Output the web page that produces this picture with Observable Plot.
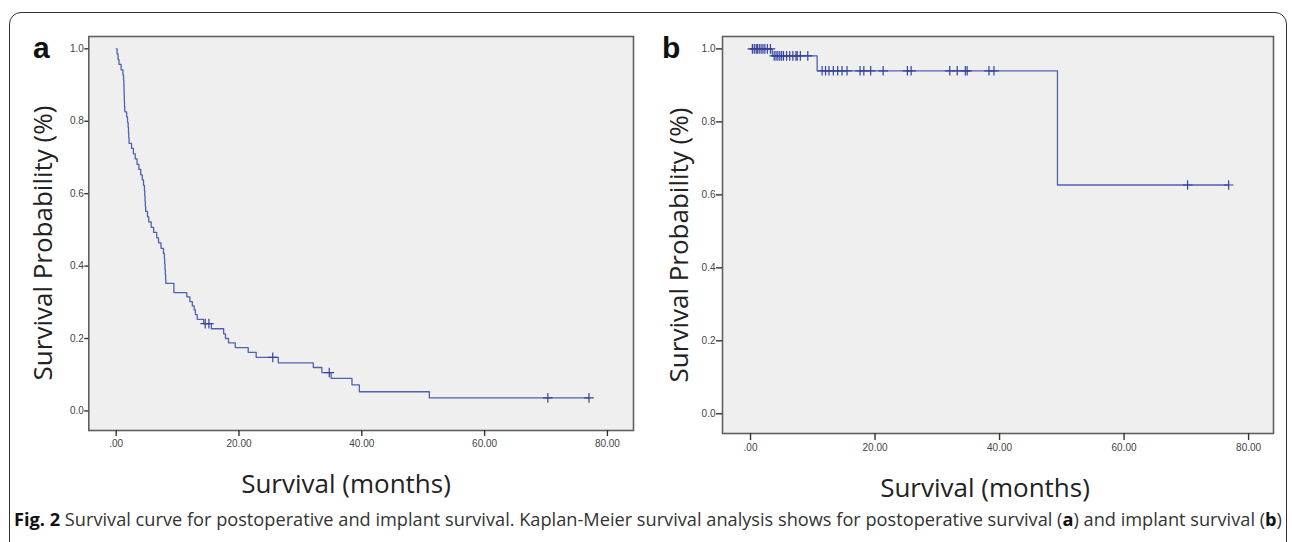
<!DOCTYPE html>
<html><head><meta charset="utf-8">
<script src="https://cdn.jsdelivr.net/npm/d3@7"></script>
<script src="https://cdn.jsdelivr.net/npm/@observablehq/plot@0.6"></script>
<style>
html,body{margin:0;padding:0;background:#fff;}
#fig{position:relative;width:1292px;height:542px;overflow:hidden;font-family:"Open Sans",sans-serif;}
#border{position:absolute;left:9px;top:12px;width:1278px;height:640px;border:1.5px solid #333;border-radius:12px;box-sizing:border-box;}
.panel{position:absolute;left:0;top:0;}
.plabel{position:absolute;font-family:"Liberation Sans",Arial,sans-serif;font-weight:bold;font-size:30px;line-height:1;color:#111;}
.title{position:absolute;font-size:26px;color:#222;white-space:nowrap;line-height:1;}
#caption{position:absolute;left:14px;top:511px;font-size:17.5px;line-height:1;color:#333;white-space:nowrap;transform-origin:0 0;}
#caption b{color:#111;}
</style>
</head><body>
<div id="fig">
  <div id="border"></div>
  <div id="panelA" class="panel"></div>
  <div id="panelB" class="panel"></div>
  <div class="plabel" style="left:33px;top:33px;">a</div>
  <div class="plabel" style="left:662px;top:33px;">b</div>
  <div class="title" id="ytA">Survival Probability (%)</div>
  <div class="title" id="ytB">Survival Probability (%)</div>
  <div class="title" id="xtA">Survival (months)</div>
  <div class="title" id="xtB">Survival (months)</div>
  <div id="caption"><b>Fig. 2</b> Survival curve for postoperative and implant survival. Kaplan-Meier survival analysis shows for postoperative survival (<b>a</b>) and implant survival (<b>b</b>)</div>
</div>
<script>
// ---- Data ----
// Panel a: postoperative survival (Kaplan-Meier steps: time in months, survival after step)
const aTimes = [0, 0.15, 0.3, 0.45, 0.8, 1.1, 1.2, 1.25, 1.28, 1.3, 1.33, 1.36, 1.4, 1.7, 1.85, 1.95, 2.0, 2.05, 2.1, 2.5, 2.8, 3.1, 3.4, 3.7, 4.0, 4.25, 4.45, 4.6, 4.65, 4.7, 4.75, 4.8, 5.1, 5.3, 5.7, 6.1, 6.6, 6.9, 7.3, 7.7, 7.85, 7.9, 7.95, 8.0, 8.05, 8.1, 9.4, 11.5, 12.0, 12.4, 12.7, 12.9, 13.2, 14.25, 15.5, 17.5, 17.8, 18.3, 19.4, 21.5, 22.8, 26.4, 32.1, 33.5, 35.0, 38.4, 39.6, 51.0, 77.0];
const aSurv  = [1.0, 0.986, 0.971, 0.957, 0.942, 0.928, 0.913, 0.899, 0.884, 0.870, 0.855, 0.841, 0.826, 0.812, 0.797, 0.783, 0.768, 0.754, 0.739, 0.725, 0.710, 0.696, 0.681, 0.667, 0.652, 0.638, 0.623, 0.609, 0.594, 0.580, 0.565, 0.551, 0.536, 0.522, 0.507, 0.493, 0.478, 0.464, 0.449, 0.435, 0.420, 0.406, 0.391, 0.377, 0.362, 0.352, 0.327, 0.315, 0.302, 0.290, 0.279, 0.266, 0.253, 0.241, 0.227, 0.213, 0.200, 0.188, 0.175, 0.162, 0.148, 0.133, 0.120, 0.106, 0.090, 0.072, 0.053, 0.036, 0.036];
const aCensorTimes = [14.5, 15.1, 25.5, 34.7, 70.3, 77.0];
const aCensorSurv  = [0.241, 0.241, 0.148, 0.106, 0.036, 0.036];

// Panel b: implant survival
const bTimes = [0, 3.5, 10.7, 49.3, 76.8];
const bSurv  = [1.0, 0.981, 0.94, 0.627, 0.627];
const bCensorTimes = [0.3, 0.6, 0.9, 1.1, 1.4, 1.7, 2.0, 2.3, 2.7, 3.2,
                      3.8, 4.1, 4.4, 4.7, 5.0, 5.3, 5.8, 6.3, 6.8, 7.3, 7.5, 8.0, 9.2,
                      11.5, 12.05, 12.6, 13.3, 14.0, 14.7, 15.5, 17.6, 18.2, 19.3, 21.3, 25.2, 25.8, 32.0, 33.2, 34.5, 34.8, 38.3, 39.1,
                      70.2, 76.8];
const bCensorSurv  = [1,1,1,1,1,1,1,1,1,1,
                      0.981,0.981,0.981,0.981,0.981,0.981,0.981,0.981,0.981,0.981,0.981,0.981,0.981,
                      0.94,0.94,0.94,0.94,0.94,0.94,0.94,0.94,0.94,0.94,0.94,0.94,0.94,0.94,0.94,0.94,0.94,0.94,0.94,
                      0.627,0.627];

// Tick values and labels
const xTicks = [0, 20, 40, 60, 80];
const xTickLabels = [".00", "20.00", "40.00", "60.00", "80.00"];
const yTicks = [0, 0.2, 0.4, 0.6, 0.8, 1.0];
const yTickLabels = ["0.0", "0.2", "0.4", "0.6", "0.8", "1.0"];

const lineColor = "#4f62b4";
const markColor = "#34449a";

function panel(times, surv, cTimes, cSurv, g) {
  const steps = times.map((t, i) => ({t, s: surv[i]}));
  const cens = cTimes.map((t, i) => ({t, s: cSurv[i]}));
  return Plot.plot({
    width: g.width, height: g.height,
    marginLeft: g.left, marginRight: g.width - g.right,
    marginTop: g.top, marginBottom: g.height - g.bottom,
    x: {domain: g.xDomain},
    y: {domain: g.yDomain},
    style: {background: "transparent", fontFamily: "'Liberation Sans', Arial, sans-serif", fontSize: "10px", color: "#444"},
    marks: [
      Plot.frame({fill: "#efefef", stroke: "#606060", strokeWidth: 1.6}),
      Plot.axisX({ticks: xTicks, tickFormat: (d) => xTickLabels[xTicks.indexOf(d)], tickSize: g.xTickSize, tickPadding: 3, stroke: "#333", strokeWidth: 1.4, label: null, fontSize: 10}),
      Plot.axisY({ticks: yTicks, tickFormat: (d) => yTickLabels[yTicks.indexOf(d)], tickSize: g.yTickSize, tickPadding: 1, stroke: "#333", strokeWidth: 1.4, label: null, fontSize: 10}),
      Plot.line(steps, {x: "t", y: "s", curve: "step-after", stroke: lineColor, strokeWidth: 1.3}),
      Plot.dot(cens, {x: "t", y: "s", symbol: "plus", r: 3.2, stroke: markColor, strokeWidth: 1.2})
    ]
  });
}

document.getElementById("panelA").appendChild(panel(aTimes, aSurv, aCensorTimes, aCensorSurv, {
  width: 646, height: 470, left: 88.3, right: 633, top: 36, bottom: 430,
  xDomain: [-4.46, 84.25], yDomain: [-0.054, 1.034], xTickSize: 6, yTickSize: 4
}));
document.getElementById("panelB").appendChild(panel(bTimes, bSurv, bCensorTimes, bCensorSurv, {
  width: 1292, height: 470, left: 722, right: 1273, top: 36, bottom: 433,
  xDomain: [-4.5, 84.0], yDomain: [-0.054, 1.034], xTickSize: 7, yTickSize: 6
}));

function place(id, cx, cy, rot) {
  const el = document.getElementById(id);
  el.style.left = cx + "px"; el.style.top = cy + "px";
  el.style.transform = "translate(-50%,-50%)" + (rot ? " rotate(-90deg)" : "");
}
place("ytA", 42, 243, true);
place("ytB", 678, 245, true);
place("xtA", 346, 483, false);
place("xtB", 985, 487, false);

const cap = document.getElementById("caption");
const w = cap.scrollWidth;
cap.style.transform = "scaleX(" + (1268 / w) + ")";
</script>
</body></html>
